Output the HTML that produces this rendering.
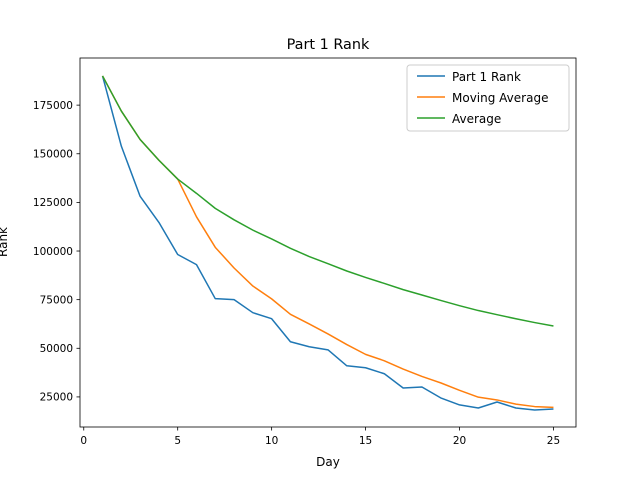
<!DOCTYPE html>
<html><head><meta charset="utf-8"><style>
body{margin:0;background:#fff}
svg{display:block;font-family:"DejaVu Sans","Liberation Sans",sans-serif}
</style></head><body>
<svg id="chart" width="640" height="480" viewBox="0 0 640 480" xmlns="http://www.w3.org/2000/svg">
<rect width="640" height="480" fill="#fff"/>
<text x="328" y="49" font-size="14.4" text-anchor="middle">Part 1 Rank</text>
<text x="328" y="466" font-size="12" text-anchor="middle">Day</text>
<text transform="translate(7,242) rotate(-90)" font-size="12" text-anchor="middle">Rank</text>
<g id="ticks"></g>
<g id="series"></g>
<rect x="80" y="58" width="496" height="369" fill="none" stroke="#000" stroke-width="0.8"/>
<g>
<rect x="407" y="65" width="162" height="66" rx="3" fill="#fff" fill-opacity="0.8" stroke="#ccc"/>
<line x1="417" y1="76" x2="445" y2="76" stroke="#1f77b4" stroke-width="1.5"/>
<text x="452" y="81" font-size="12">Part 1 Rank</text>
<line x1="417" y1="97" x2="445" y2="97" stroke="#ff7f0e" stroke-width="1.5"/>
<text x="452" y="102" font-size="12">Moving Average</text>
<line x1="417" y1="118" x2="445" y2="118" stroke="#2ca02c" stroke-width="1.5"/>
<text x="452" y="123" font-size="12">Average</text>
</g>
</svg>
<script>
const days = [1,2,3,4,5,6,7,8,9,10,11,12,13,14,15,16,17,18,19,20,21,22,23,24,25];
const rank = [190000,153900,128100,114700,98200,93000,75500,75000,68300,65200,53350,50800,49200,41000,40000,36900,29600,30100,24500,20900,19300,22400,19300,18300,18800];
const movingAvg = [190000,171950,157333,146675,136980,117580,101900,91280,82000,75400,67470,62530,57370,51910,46870,43580,39340,35520,32220,28400,24880,23440,21280,20040,19620];
const average = [190000,171950,157333,146675,136980,129650,121914,116050,110744,106190,101382,97167,93477,89729,86414,83319,80159,77378,74595,71910,69405,67268,65183,63225,61448];
const xTicks = [0,5,10,15,20,25];
const yTicks = [25000,50000,75000,100000,125000,150000,175000];
const xMin=-0.2,xMax=26.2,yMin=9536,yMax=199227;
const L=80,R=576,T=58,B=427;
const sx=v=>L+(v-xMin)/(xMax-xMin)*(R-L);
const sy=v=>B-(v-yMin)/(yMax-yMin)*(B-T);
const NS="http://www.w3.org/2000/svg";
const tg=document.getElementById('ticks');
function mk(tag,attrs,parent){const e=document.createElementNS(NS,tag);for(const k in attrs)e.setAttribute(k,attrs[k]);parent.appendChild(e);return e;}
xTicks.forEach(t=>{
  const l=mk('line',{x1:sx(t),x2:sx(t),y1:B,y2:B+3.5,stroke:'#000','stroke-width':0.8},tg);
  
  
  const tx=mk('text',{x:sx(t),y:B+17,'font-size':10.5,'text-anchor':'middle'},tg);
  tx.textContent=t;
  
  
});
yTicks.forEach(t=>{
  const l=mk('line',{x1:L-3.5,x2:L,y1:sy(t),y2:sy(t),stroke:'#000','stroke-width':0.8},tg);
  
  
  const tx=mk('text',{x:L-7,y:sy(t)+3.8,'font-size':10.5,'text-anchor':'end'},tg);
  tx.textContent=t;
  
  
});
const sg=document.getElementById('series');
[[rank,'#1f77b4','part1-rank-line'],[movingAvg,'#ff7f0e','moving-average-line'],[average,'#2ca02c','average-line']].forEach(([d,c,n])=>{
  const p=mk('polyline',{points:d.map((v,i)=>sx(days[i])+','+sy(v)).join(' '),fill:'none',stroke:c,'stroke-width':1.5,'stroke-linejoin':'round'},sg);
  
  
});
</script>
</body></html>
